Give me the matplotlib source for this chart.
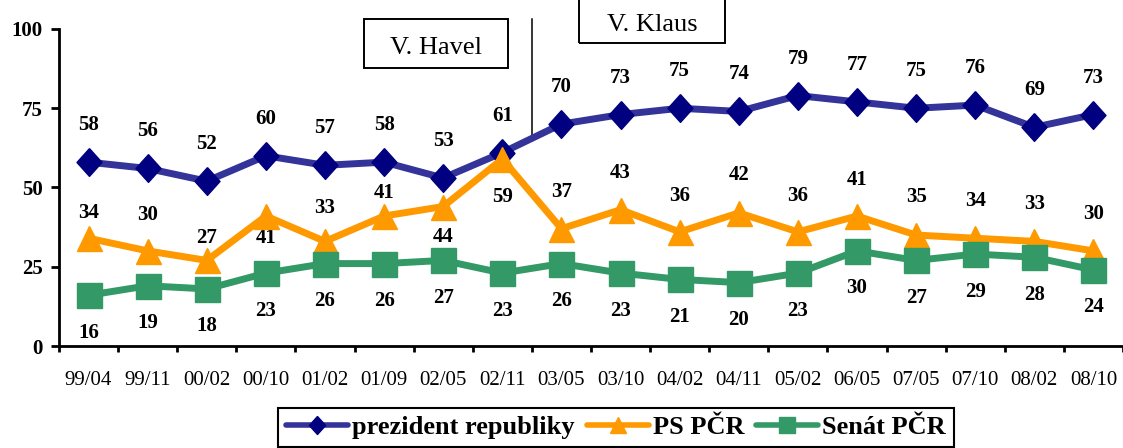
import matplotlib
matplotlib.use("Agg")
import matplotlib.pyplot as plt
from matplotlib.lines import Line2D
from matplotlib.patches import Rectangle
import numpy as np

plt.rcParams['font.family'] = ['Liberation Serif', 'DejaVu Serif']

# survey waves
periods = ["99/04", "99/11", "00/02", "00/10", "01/02", "01/09", "02/05", "02/11", "03/05",
           "03/10", "04/02", "04/11", "05/02", "06/05", "07/05", "07/10", "08/02", "08/10"]

prezident = [58, 56, 52, 60, 57, 58, 53, 61, 70, 73, 75, 74, 79, 77, 75, 76, 69, 73]
ps_pcr = [34, 30, 27, 41, 33, 41, 44, 59, 37, 43, 36, 42, 36, 41, 35, 34, 33, 30]
senat = [16, 19, 18, 23, 26, 26, 27, 23, 26, 23, 21, 20, 23, 30, 27, 29, 28, 24]

series_names = ["prezident republiky", "PS PČR", "Senát PČR"]
presidents = ["V. Havel", "V. Klaus"]

# label offsets in pixels (+ above, - below); PS labels were shifted by hand in the original
px = 0.72
ps_label_off = [25, 36, 22, -22, 33, 23, -30, -38, 37, 37, 36, 38, 36, 36, 38, 37, 37, 37]

BLUE_LINE = "#333399"
BLUE_MARK = "#000080"
ORANGE = "#FF9900"
GREEN = "#339966"

diamond = [(0, 1), (0.9, 0), (0, -1), (-0.9, 0), (0, 1)]

fig = plt.figure(figsize=(11.23, 4.48), dpi=100)
ax = fig.add_axes([59 / 1123, 102 / 448, 1 - 59 / 1123, 317 / 448])

x = np.arange(len(periods))
ax.plot(x, prezident, color=BLUE_LINE, lw=5, marker=diamond, ms=20,
        mfc=BLUE_MARK, mec=BLUE_MARK, mew=1, zorder=3, clip_on=False)
ax.plot(x, ps_pcr, color=ORANGE, lw=5, marker="^", ms=18,
        mfc=ORANGE, mec=ORANGE, mew=1, zorder=4, clip_on=False)
ax.plot(x, senat, color=GREEN, lw=5, marker="s", ms=18,
        mfc=GREEN, mec=GREEN, mew=1, zorder=5, clip_on=False)

lab = dict(textcoords="offset points", ha="center", va="center",
           fontsize=15, fontweight="bold", annotation_clip=False)
for i in x:
    ax.annotate(str(prezident[i]), (i, prezident[i]), xytext=(0, 37 * px), **lab)
    ax.annotate(str(ps_pcr[i]), (i, ps_pcr[i]), xytext=(0, ps_label_off[i] * px), **lab)
    ax.annotate(str(senat[i]), (i, senat[i]), xytext=(0, -37.5 * px), **lab)

ax.set_xlim(-0.5, -0.5 + 1064 / 59.28)
ax.set_ylim(0, 100)
ax.set_yticks([0, 25, 50, 75, 100])
ax.set_xticks(x)
ax.set_xticklabels(periods, fontsize=15)
ax.set_xticks(np.arange(-0.5, len(periods)), minor=True)
ax.tick_params(axis="x", which="major", length=0, pad=18)
ax.tick_params(axis="x", which="minor", length=4.3, width=2, direction="out")
ax.tick_params(axis="y", length=5.8, width=2, pad=5.8, labelsize=15)
for t in ax.get_yticklabels():
    t.set_fontweight("bold")

for s in ["top", "right"]:
    ax.spines[s].set_visible(False)
for s in ["left", "bottom"]:
    ax.spines[s].set_linewidth(2)

# boundary between the two presidencies
ax.plot([7.5, 7.5], [65, 103], color="black", lw=1.1, clip_on=False, zorder=2)

# president name boxes (figure pixels)
def name_box(text, left, right, top, bottom, baseline):
    fig.patches.append(Rectangle((left / 1123, 1 - bottom / 448), (right - left) / 1123,
                                 (bottom - top) / 448, transform=fig.transFigure,
                                 fill=False, ec="black", lw=1.4))
    fig.text((left + right) / 2 / 1123, 1 - baseline / 448, text, ha="center",
             va="baseline", fontsize=19)

name_box(presidents[0], 364, 508, 19, 68, 54)
name_box(presidents[1], 579, 725, -10, 43, 31)

handles = [
    Line2D([], [], color=BLUE_LINE, lw=4, marker=diamond, ms=13, mfc=BLUE_MARK,
           mec=BLUE_MARK, solid_capstyle="round"),
    Line2D([], [], color=ORANGE, lw=4, marker="^", ms=12, mfc=ORANGE, mec=ORANGE,
           solid_capstyle="round"),
    Line2D([], [], color=GREEN, lw=4, marker="s", ms=11, mfc=GREEN, mec=GREEN,
           solid_capstyle="round"),
]
leg = fig.legend(handles, series_names, loc="upper center", bbox_to_anchor=(0.5485, 0.0895),
                 ncol=3, fancybox=False, framealpha=1, edgecolor="black",
                 prop={"size": 19, "weight": "bold"}, handlelength=2.35,
                 handletextpad=0.15, columnspacing=0.45, borderpad=0.3,
                 borderaxespad=0)
leg.get_frame().set_linewidth(1.5)

fig.savefig("out.png", dpi=100)
